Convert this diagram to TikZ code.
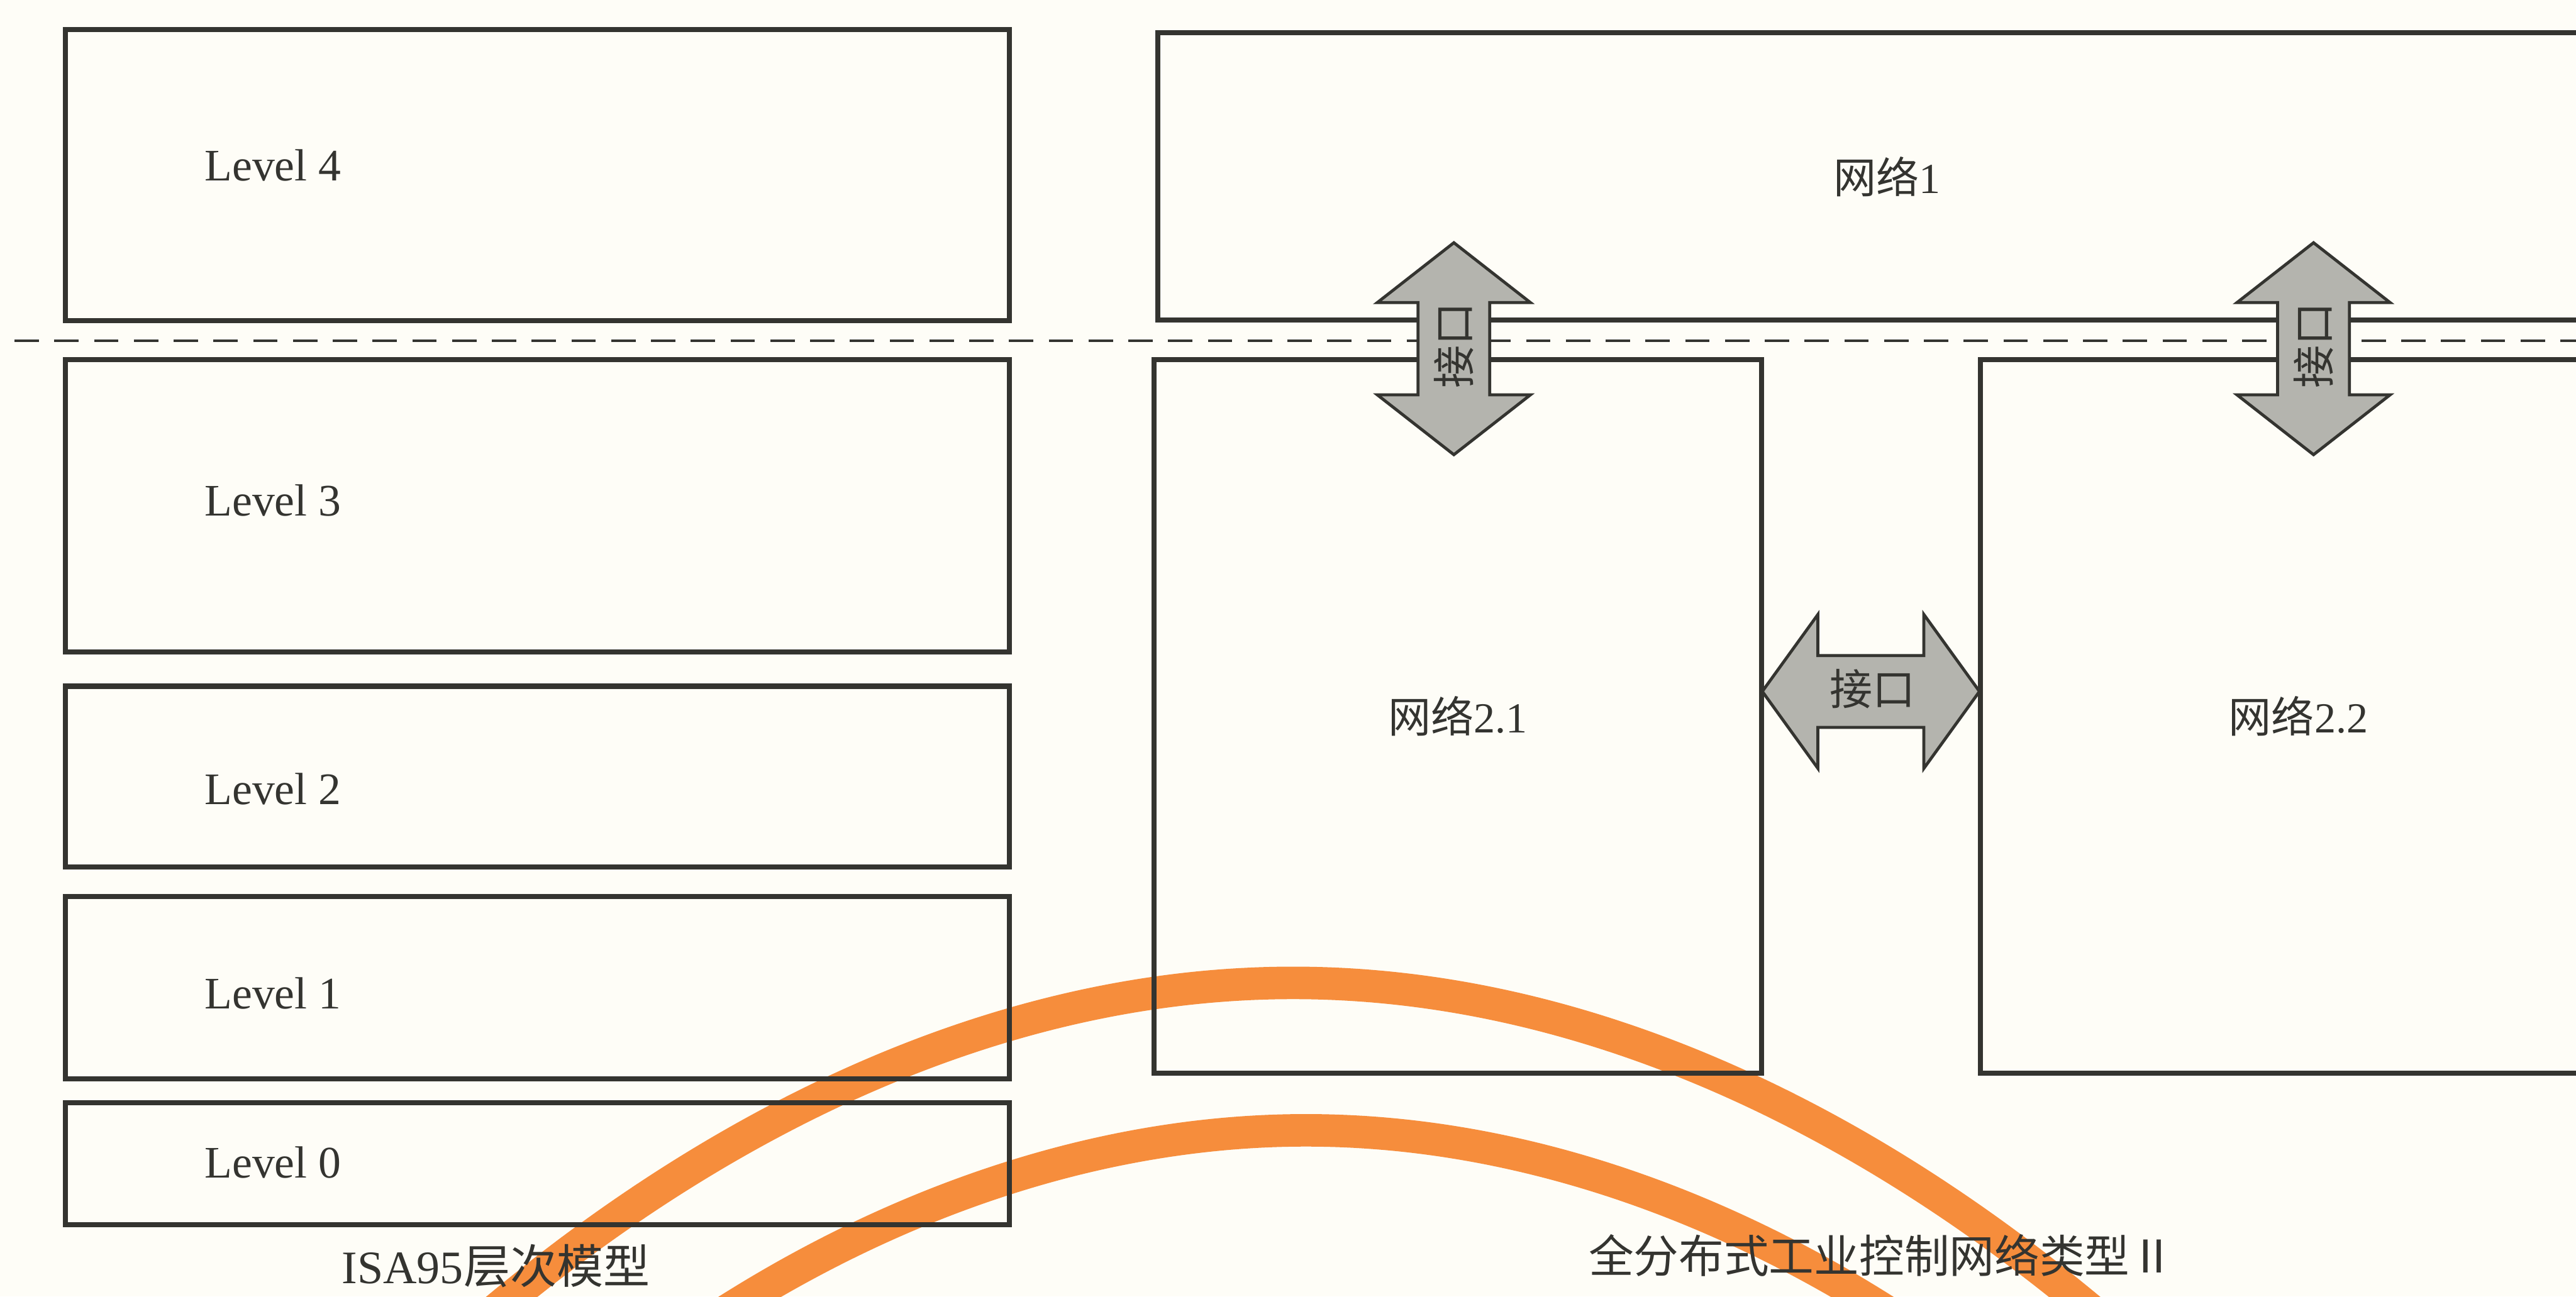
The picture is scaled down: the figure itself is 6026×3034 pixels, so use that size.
\documentclass[tikz,border=0pt]{standalone}
\usepackage{fontspec}
\setmainfont{Liberation Serif}
\newfontfamily\cjk{Noto Sans CJK SC}
\usetikzlibrary{calc}
\definecolor{bg}{RGB}{254,253,247}
\definecolor{ink}{RGB}{52,52,48}
\definecolor{arcorange}{RGB}{246,141,60}
\definecolor{ifgray}{RGB}{180,180,174}
\begin{document}
\begin{tikzpicture}[x=0.01cm,y=-0.01cm,
  box/.style={draw=ink, line width=0.12cm, inner sep=0, outer sep=0, text=ink,
    font=\fontsize{28.5}{34}\selectfont},
  lvl/.style={anchor=base west, inner sep=0, text=ink, font=\fontsize{30}{36}\selectfont},
  ifarrow/.style={draw=ink, fill=ifgray, line width=0.07cm, line join=miter},
  iflbl/.style={inner sep=0, text=ink, font=\cjk\fontsize{28.5}{34}\selectfont},
  band/.style={draw=arcorange, line width=0.76cm},
  sepline/.style={draw=ink, line width=0.06cm, dash pattern=on 0.57cm off 0.36cm},
  captxt/.style={anchor=base, inner sep=0, text=ink, font=\fontsize{31}{37}\selectfont}
]
\fill[bg] (0,0) rectangle (6026,3034);
\clip (0,0) rectangle (6026,3034);

% orange arcs (underneath)
\draw[band] (1118,3100) parabola bend (3025,2300) (4932,3100);
\draw[band] (1649,3100) parabola bend (3055,2645) (4461,3100);

% dashed separator
\coordinate (sepA) at (34,797);
\coordinate (sepB) at (6026,797);
\draw[sepline] (sepA) -- (sepB);

% ISA95 level boxes
\node[box, minimum width=22.06cm, minimum height=6.81cm] (L4) at (1257,409.5) {};
\node[box, minimum width=22.06cm, minimum height=6.84cm] (L3) at (1257,1184) {};
\node[box, minimum width=22.06cm, minimum height=4.23cm] (L2) at (1257,1817.5) {};
\node[box, minimum width=22.06cm, minimum height=4.27cm] (L1) at (1257,2311.5) {};
\node[box, minimum width=22.06cm, minimum height=2.85cm] (L0) at (1257,2723.5) {};
\node[lvl] (t4) at (478,423) {Level 4};
\node[lvl] (t3) at (478,1207) {Level 3};
\node[lvl] (t2) at (478,1883) {Level 2};
\node[lvl] (t1) at (478,2360) {Level 1};
\node[lvl] (t0) at (478,2756) {Level 0};

% network boxes
\node[box, minimum width=34.11cm, minimum height=6.72cm] (N1) at (4414.5,413) {{\cjk 网络}1};
\node[box, minimum width=14.20cm, minimum height=16.69cm] (N21) at (3410,1676.5) {{\cjk 网络}2.1};
\node[box, minimum width=14.87cm, minimum height=16.69cm] (N22) at (5376.5,1676.5) {{\cjk 网络}2.2};

% interface arrows
\coordinate (a1) at (3401,816);
\coordinate (a2) at (5412,816);
\coordinate (a3) at ($(N21.east)!0.5!(N22.west)$);
\coordinate (a3c) at (a3 |- 0,1618);
\draw[ifarrow] ($(a1)+(0,-248)$) -- ++(179,140) -- ++(-95,0) -- ++(0,216) -- ++(95,0)
  -- ++(-179,140) -- ++(-179,-140) -- ++(95,0) -- ++(0,-216) -- ++(-95,0) -- cycle;
\draw[ifarrow] ($(a2)+(0,-248)$) -- ++(179,140) -- ++(-95,0) -- ++(0,216) -- ++(95,0)
  -- ++(-179,140) -- ++(-179,-140) -- ++(95,0) -- ++(0,-216) -- ++(-95,0) -- cycle;
\draw[ifarrow] ($(a3c)+(-254,0)$) -- ++(130,-180) -- ++(0,96) -- ++(248,0) -- ++(0,-96)
  -- ++(130,180) -- ++(-130,180) -- ++(0,-96) -- ++(-248,0) -- ++(0,96) -- cycle;
\node[iflbl, rotate=90] (i1) at ($(a1)+(0,-8)$) {接口};
\node[iflbl, rotate=90] (i2) at ($(a2)+(0,-8)$) {接口};
\node[iflbl] (i3) at ($(a3c)+(4,-6)$) {接口};

% captions
\node[captxt] (c1) at (1160,3004) {ISA95{\cjk 层次模型}};
\node[captxt, font=\cjk\fontsize{30}{36}\selectfont] (c2) at (4402,2978) {全分布式工业控制网络类型Ⅱ};
\end{tikzpicture}
\end{document}
